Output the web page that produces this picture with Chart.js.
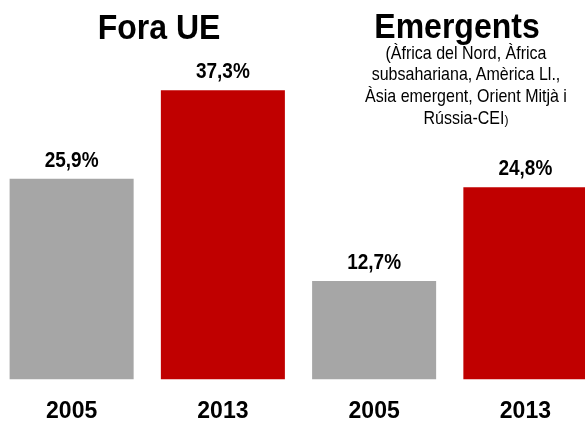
<!DOCTYPE html>
<html>
<head>
<meta charset="utf-8">
<script src="https://cdn.jsdelivr.net/npm/chart.js@4.4.1/dist/chart.umd.min.js"></script>
<style>
  html, body { margin: 0; padding: 0; background: #fff; overflow: hidden; }
  body { width: 585px; height: 423px; position: relative; font-family: "Liberation Sans", Arial, sans-serif; color: #000; }
  #wrap { position: absolute; left: -4px; top: 0; width: 605px; height: 423px; }
  .title { position: absolute; font-weight: bold; font-size: 32px; line-height: 32px; text-align: center; white-space: nowrap; transform: scaleY(1.08); }
  .sub { position: absolute; font-size: 16px; line-height: 19.4px; text-align: center; white-space: nowrap; transform-origin: 50% 0; transform: scaleY(1.12); }
</style>
</head>
<body>
<div id="wrap"><canvas id="c" width="605" height="423"></canvas></div>
<div class="title" style="left:59px; width:200px; top:11px;">Fora UE</div>
<div class="title" style="left:357px; width:200px; top:10px;">Emergents</div>
<div class="sub" style="left:346px; width:240px; top:42px;">(Àfrica del Nord, Àfrica<br>subsahariana, Amèrica Ll.,<br>Àsia emergent, Orient Mitjà i<br>Rússia-CEI<span style="font-size:12px">)</span></div>
<script>
const categories = ['2005', '2013', '2005', '2013'];
const values = [25.9, 37.3, 12.7, 24.8];
const barColors = ['#A6A6A6', '#C00000', '#A6A6A6', '#C00000'];

const valueLabels = {
  id: 'valueLabels',
  afterDatasetsDraw(chart) {
    const ctx = chart.ctx;
    const meta = chart.getDatasetMeta(0);
    meta.data.forEach((el, i) => {
      const v = chart.data.datasets[0].data[i];
      ctx.save();
      ctx.font = 'bold 19px "Liberation Sans", Arial, sans-serif';
      ctx.fillStyle = '#000';
      ctx.textAlign = 'center';
      ctx.textBaseline = 'middle';
      ctx.translate(el.x, el.y - 18);
      ctx.scale(1, 1.15);
      ctx.fillText(v.toFixed(1).replace('.', ',') + '%', 0, 0);
      ctx.restore();
    });
  }
};

new Chart(document.getElementById('c'), {
  type: 'bar',
  data: {
    labels: categories,
    datasets: [{
      data: values,
      backgroundColor: barColors,
      borderWidth: 0,
      barPercentage: 0.82,
      categoryPercentage: 1.0
    }]
  },
  options: {
    responsive: false,
    animation: false,
    layout: { padding: 0 },
    plugins: { legend: { display: false }, tooltip: { enabled: false }, title: { display: false } },
    scales: {
      x: {
        grid: { display: false, drawTicks: false },
        border: { display: false },
        ticks: {
          color: '#000',
          padding: 18,
          maxRotation: 0,
          font: { family: '"Liberation Sans", Arial, sans-serif', size: 23, weight: 'bold' }
        },
        afterFit(scale) { scale.height = 43.5; }
      },
      y: {
        display: false,
        min: 0,
        max: 48.95
      }
    }
  },
  plugins: [valueLabels]
});
</script>
</body>
</html>
